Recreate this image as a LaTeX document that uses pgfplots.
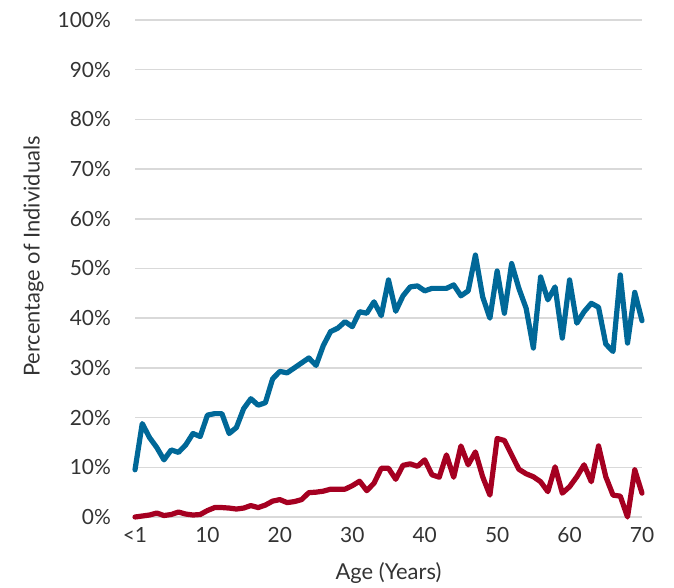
\documentclass[border=0pt]{standalone}
\usepackage{pgfplots}
\pgfplotsset{compat=1.18}
\usepackage{fontspec}
\setmainfont{Lato}
\definecolor{blueline}{HTML}{006898}
\definecolor{redline}{HTML}{A50021}
\definecolor{gridc}{HTML}{D9D9D9}
\definecolor{txt}{HTML}{333333}
\begin{document}
\fontsize{21}{24}\selectfont
\begin{tikzpicture}
\begin{axis}[
  name=ax,
  scale only axis,
  width=507bp, height=497bp,
  xmin=0, xmax=70, ymin=0, ymax=100,
  axis line style={draw=none},
  major tick length=0pt,
  xtick={0,10,20,30,40,50,60,70},
  xticklabels={<1,10,20,30,40,50,60,70},
  ytick={0,10,...,100},
  yticklabels={0\%,10\%,20\%,30\%,40\%,50\%,60\%,70\%,80\%,90\%,100\%},
  ymajorgrids,
  grid style={gridc, line width=1.6bp},
  /pgf/number format/assume math mode=true,
  ticklabel style={text=txt, font=\fontsize{21}{24}\selectfont},
  yticklabel style={xshift=-17bp},
  xticklabel style={yshift=-3bp},
  xlabel={Age (Years)},
  ylabel={Percentage of Individuals},
  label style={text=txt, font=\fontsize{22}{25}\selectfont},
  xlabel style={yshift=-6bp},
  ylabel style={yshift=0bp, xshift=12bp},
  clip=false,
]
\addplot[blueline, line width=5.2bp, line join=round, line cap=round] coordinates {
(0,9.5)(1,18.8)(2,16)(3,14)(4,11.5)(5,13.5)(6,13)(7,14.5)(8,16.8)(9,16.2)
(10,20.5)(11,20.8)(12,20.8)(13,16.8)(14,18)(15,21.8)(16,23.8)(17,22.5)(18,23)(19,27.8)
(20,29.3)(21,29)(22,30)(23,31)(24,32)(25,30.5)(26,34.5)(27,37.3)(28,38)(29,39.3)
(30,38.3)(31,41.3)(32,41)(33,43.3)(34,40.5)(35,47.7)(36,41.4)(37,44.5)(38,46.3)(39,46.5)
(40,45.5)(41,46)(42,46)(43,46)(44,46.7)(45,44.5)(46,45.5)(47,52.7)(48,44.3)(49,40)
(50,49.5)(51,41)(52,51)(53,46)(54,42)(55,34)(56,48.3)(57,43.7)(58,46.3)(59,36)
(60,47.7)(61,39)(62,41.3)(63,43)(64,42.2)(65,34.8)(66,33.3)(67,48.7)(68,35)(69,45.2)
(70,39.5)
};
\addplot[redline, line width=5.2bp, line join=round, line cap=round] coordinates {
(0,0)(1,0.2)(2,0.4)(3,0.8)(4,0.3)(5,0.5)(6,1)(7,0.6)(8,0.4)(9,0.5)
(10,1.3)(11,1.9)(12,1.9)(13,1.8)(14,1.6)(15,1.8)(16,2.3)(17,1.9)(18,2.4)(19,3.2)
(20,3.5)(21,2.9)(22,3.1)(23,3.5)(24,4.9)(25,5)(26,5.2)(27,5.6)(28,5.6)(29,5.6)
(30,6.3)(31,7.2)(32,5.3)(33,6.8)(34,9.8)(35,9.8)(36,7.6)(37,10.4)(38,10.7)(39,10.2)
(40,11.5)(41,8.5)(42,8)(43,12.5)(44,8)(45,14.3)(46,10.5)(47,13.1)(48,8.1)(49,4.4)
(50,15.8)(51,15.4)(52,12.5)(53,9.6)(54,8.7)(55,8.1)(56,7.1)(57,5.1)(58,10.1)(59,4.8)
(60,6.1)(61,8.1)(62,10.5)(63,7.1)(64,14.3)(65,8.1)(66,4.4)(67,4.2)(68,0)(69,9.5)
(70,4.8)
};
\end{axis}
\pgfresetboundingbox
\path ([xshift=-135bp,yshift=-70bp]ax.south west) rectangle ([xshift=32bp,yshift=20bp]ax.north east);
\end{tikzpicture}
\end{document}
